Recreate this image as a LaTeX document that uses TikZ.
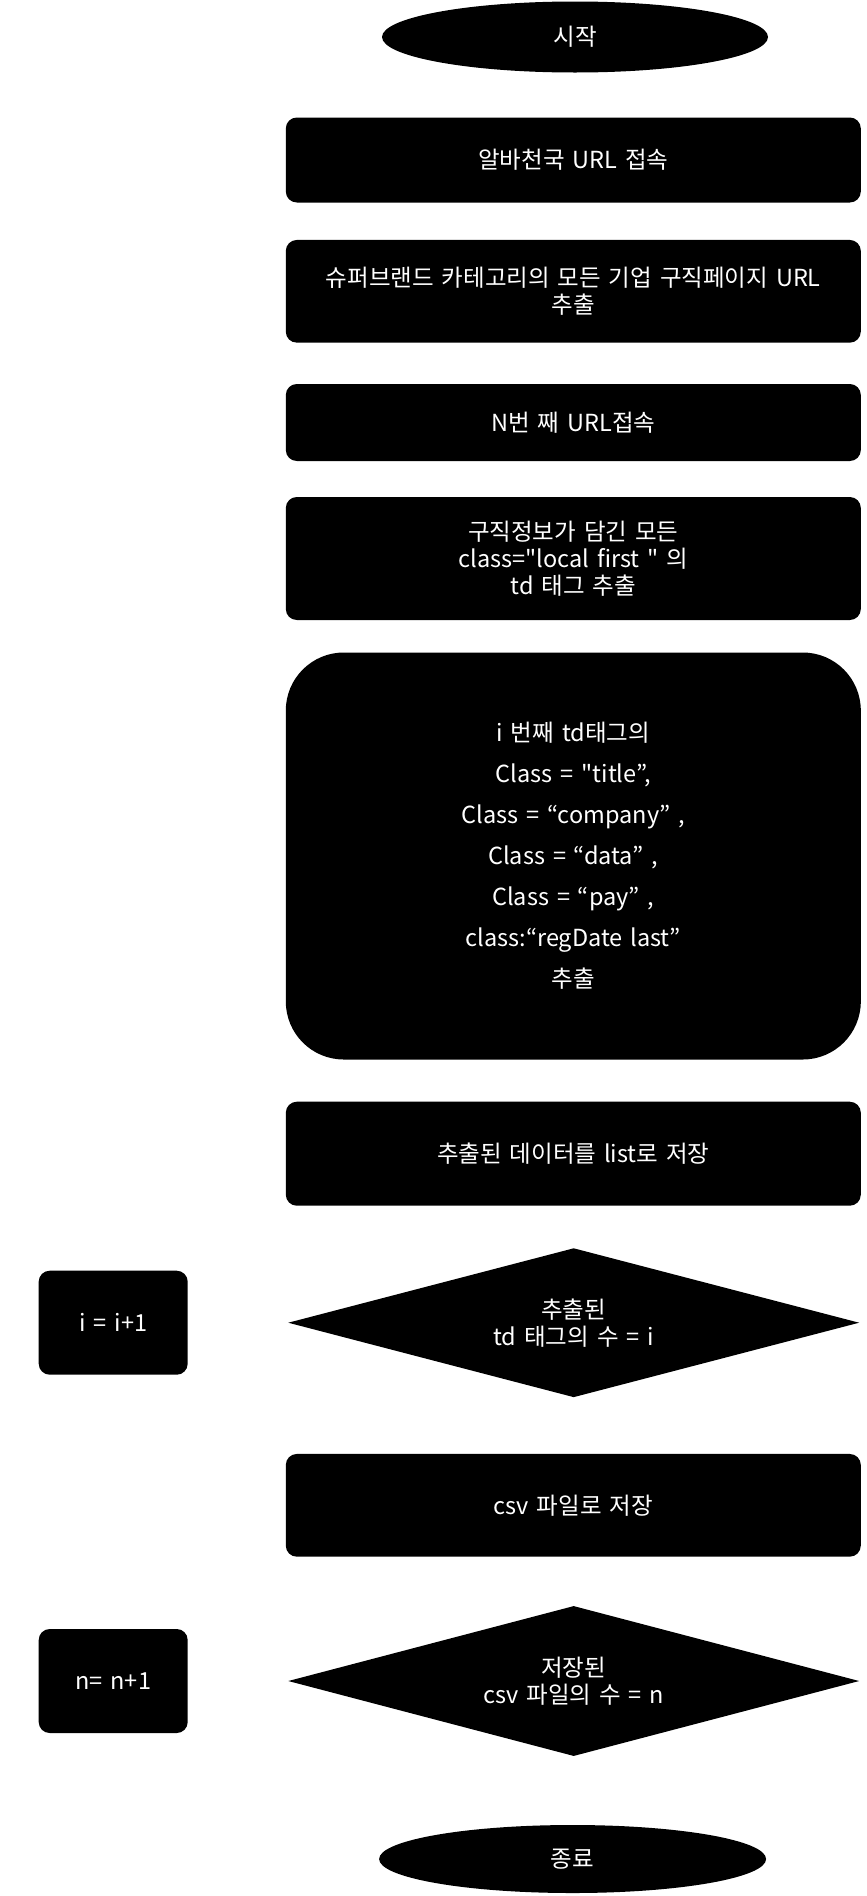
\documentclass[tikz,border=0pt]{standalone}
\usepackage{fontspec}
\setmainfont{Noto Sans CJK KR}[Ligatures=TeXOff,WordSpace=1.5]
\usetikzlibrary{shapes.geometric}
\begin{document}
\begin{tikzpicture}[x=1pt,y=-1pt,
  every node/.style={text=white,font=\fontsize{23.5}{27}\selectfont,align=center,inner sep=0pt},
  term/.style={ellipse,fill=black,minimum width=386pt,minimum height=70pt},
  proc/.style={rounded corners=11pt,fill=black,minimum width=575pt},
  small/.style={rounded corners=11pt,fill=black,minimum width=149pt,minimum height=104pt},
  dec/.style={diamond,aspect=3.83,fill=black,minimum width=571pt,minimum height=149pt}]
\useasboundingbox (0,0) rectangle (867,1896);
\node[term,minimum height=71pt] (start) at (575,37) {시작};
\node[proc,minimum height=85pt] (b1) at (573.3,160) {알바천국 URL 접속};
\node[proc,minimum height=102.7pt] (b2) at (573.3,291.3) {슈퍼브랜드 카테고리의 모든 기업 구직페이지 URL\\추출};
\node[proc,minimum height=77pt] (b3) at (573.3,422.5) {N번 째 URL접속};
\node[proc,minimum height=123pt] (b4) at (573.3,558.5) {구직정보가 담긴 모든\\class="local first " 의\\td 태그 추출};
\node[proc,rounded corners=58pt,minimum height=407pt] (b5) at (573.3,856) {i 번째 td태그의\\[14pt]Class = "title”,\\[14pt]Class = “company” ,\\[14pt]Class = “data” ,\\[14pt]Class = “pay” ,\\[14pt]class:“regDate last”\\[14pt]추출};
\node[proc,minimum height=104pt] (b6) at (573.3,1153.7) {추출된 데이터를 list로 저장};
\node[small] (inc) at (113.2,1322.7) {i = i+1};
\node[dec] (d1) at (573.7,1322.7) {추출된\\td 태그의 수 = i};
\node[proc,minimum height=102.7pt] (b7) at (573.3,1505.3) {csv 파일로 저장};
\node[small] (ninc) at (113.2,1681) {n= n+1};
\node[dec,minimum height=150pt] (d2) at (573.7,1681) {저장된\\csv 파일의 수 = n};
\node[term,minimum width=387pt,minimum height=68pt] (end) at (572.6,1859) {종료};
\end{tikzpicture}
\end{document}
